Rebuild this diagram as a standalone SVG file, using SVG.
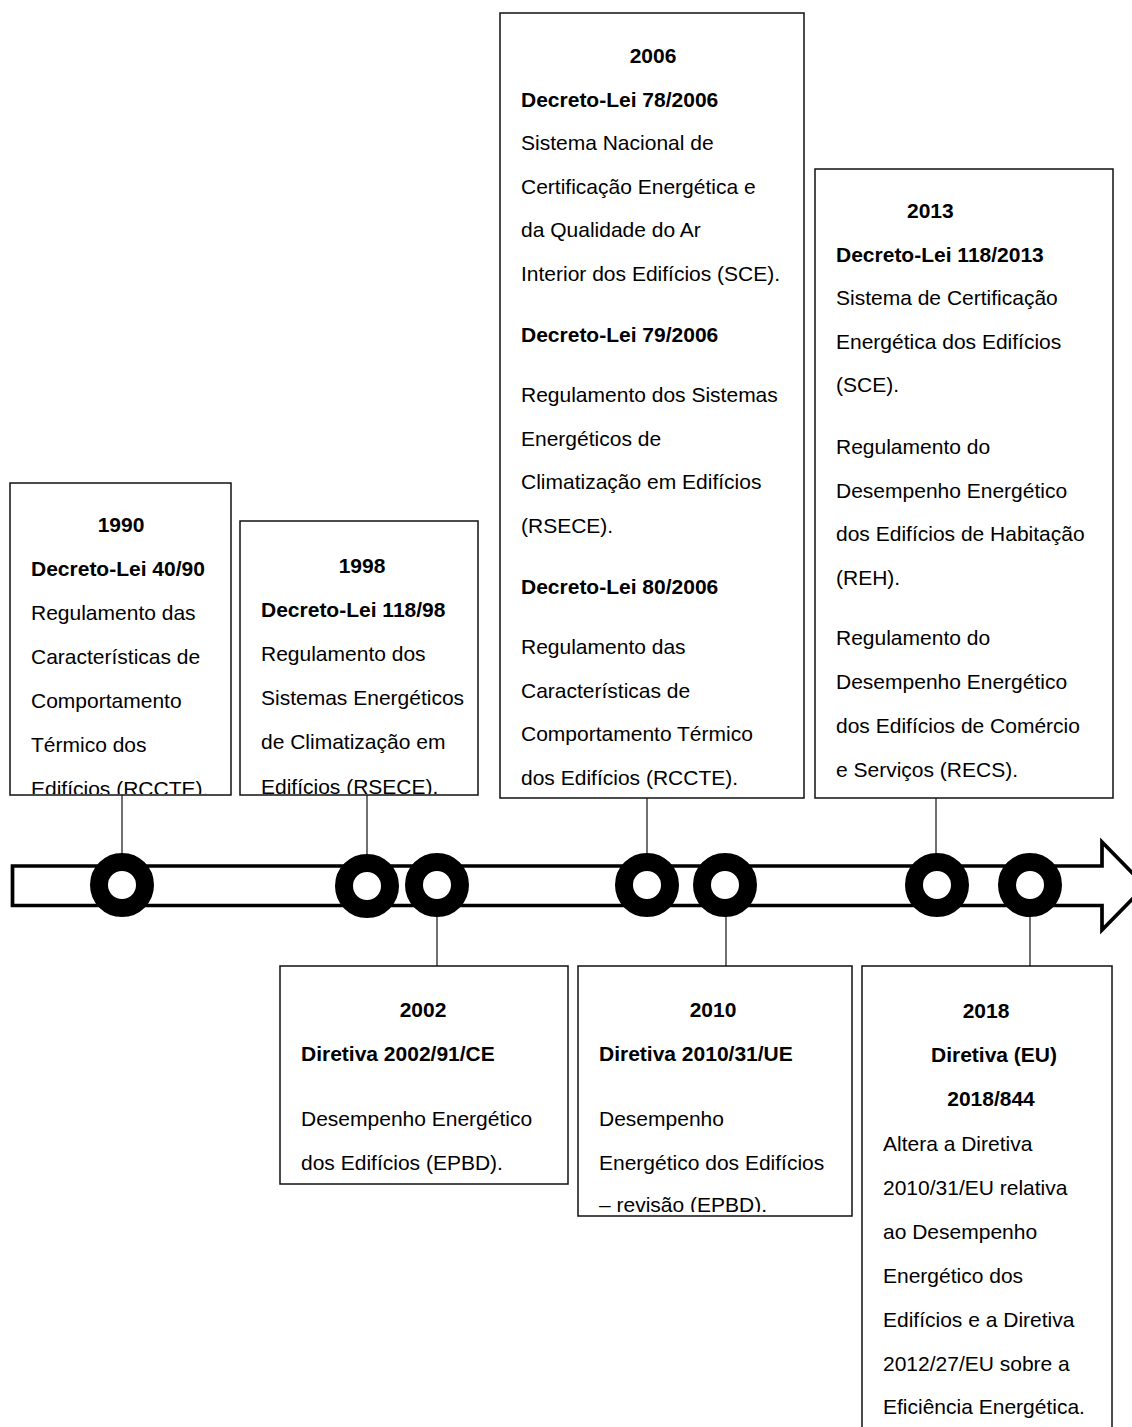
<svg xmlns="http://www.w3.org/2000/svg" width="1132" height="1427" viewBox="0 0 1132 1427">
<style>
.t{font-family:"Liberation Sans",Arial,sans-serif;font-size:21px;fill:#000}
.b{font-weight:bold}
.c{text-anchor:middle}
.box{fill:#fff;stroke:#111;stroke-width:1.5}
.conn{stroke:#111;stroke-width:1.2;fill:none}
.ring{fill:#fff;stroke:#000;stroke-width:18}
.arrow{fill:#fff;stroke:#000;stroke-width:3.7;stroke-linejoin:miter}
</style>
<defs>
<clipPath id="c1990"><rect x="10" y="483" width="221" height="311"/></clipPath>
<clipPath id="c1998"><rect x="240" y="521" width="238" height="273"/></clipPath>
<clipPath id="c2010"><rect x="578" y="966" width="274" height="246"/></clipPath>
</defs>
<rect width="1132" height="1427" fill="#fff"/>

<g id="connectors">
<line class="conn" x1="122" y1="795" x2="122" y2="856"/>
<line class="conn" x1="367" y1="795" x2="367" y2="856"/>
<line class="conn" x1="647" y1="798" x2="647" y2="856"/>
<line class="conn" x1="936" y1="798" x2="936" y2="856"/>
<line class="conn" x1="437" y1="914" x2="437" y2="966"/>
<line class="conn" x1="726" y1="914" x2="726" y2="966"/>
<line class="conn" x1="1030" y1="914" x2="1030" y2="966"/>
</g>

<g id="timeline">
<polygon class="arrow" points="12.5,866 1102,866 1102,842 1145,886 1102,930 1102,905.5 12.5,905.5"/>
<circle class="ring" cx="122" cy="885" r="23"/>
<circle class="ring" cx="367" cy="886" r="23"/>
<circle class="ring" cx="437" cy="885" r="23"/>
<circle class="ring" cx="647" cy="885" r="23"/>
<circle class="ring" cx="725" cy="885" r="23"/>
<circle class="ring" cx="937" cy="885" r="23"/>
<circle class="ring" cx="1030" cy="885" r="23"/>
</g>

<g id="n1990">
<rect class="box" x="10" y="483" width="221" height="312"/>
<g clip-path="url(#c1990)">
<text class="t b c" x="121" y="532">1990</text>
<text class="t b" x="31" y="576">Decreto-Lei 40/90</text>
<text class="t" x="31" y="620">Regulamento das</text>
<text class="t" x="31" y="664">Características de</text>
<text class="t" x="31" y="708">Comportamento</text>
<text class="t" x="31" y="752">Térmico dos</text>
<text class="t" x="31" y="796">Edifícios (RCCTE).</text>
</g>
</g>

<g id="n1998">
<rect class="box" x="240" y="521" width="238" height="274"/>
<g clip-path="url(#c1998)">
<text class="t b c" x="362" y="573">1998</text>
<text class="t b" x="261" y="617">Decreto-Lei 118/98</text>
<text class="t" x="261" y="661">Regulamento dos</text>
<text class="t" x="261" y="705">Sistemas Energéticos</text>
<text class="t" x="261" y="749">de Climatização em</text>
<text class="t" x="261" y="794">Edifícios (RSECE).</text>
</g>
</g>

<g id="n2006">
<rect class="box" x="500" y="13" width="304" height="785"/>
<text class="t b c" x="653" y="63">2006</text>
<text class="t b" x="521" y="107">Decreto-Lei 78/2006</text>
<text class="t" x="521" y="150">Sistema Nacional de</text>
<text class="t" x="521" y="194">Certificação Energética e</text>
<text class="t" x="521" y="237">da Qualidade do Ar</text>
<text class="t" x="521" y="281">Interior dos Edifícios (SCE).</text>
<text class="t b" x="521" y="342">Decreto-Lei 79/2006</text>
<text class="t" x="521" y="402">Regulamento dos Sistemas</text>
<text class="t" x="521" y="446">Energéticos de</text>
<text class="t" x="521" y="489">Climatização em Edifícios</text>
<text class="t" x="521" y="533">(RSECE).</text>
<text class="t b" x="521" y="594">Decreto-Lei 80/2006</text>
<text class="t" x="521" y="654">Regulamento das</text>
<text class="t" x="521" y="698">Características de</text>
<text class="t" x="521" y="741">Comportamento Térmico</text>
<text class="t" x="521" y="785">dos Edifícios (RCCTE).</text>
</g>

<g id="n2013">
<rect class="box" x="815" y="169" width="298" height="629"/>
<text class="t b" x="907" y="218">2013</text>
<text class="t b" x="836" y="262">Decreto-Lei 118/2013</text>
<text class="t" x="836" y="305">Sistema de Certificação</text>
<text class="t" x="836" y="349">Energética dos Edifícios</text>
<text class="t" x="836" y="392">(SCE).</text>
<text class="t" x="836" y="454">Regulamento do</text>
<text class="t" x="836" y="498">Desempenho Energético</text>
<text class="t" x="836" y="541">dos Edifícios de Habitação</text>
<text class="t" x="836" y="585">(REH).</text>
<text class="t" x="836" y="645">Regulamento do</text>
<text class="t" x="836" y="689">Desempenho Energético</text>
<text class="t" x="836" y="733">dos Edifícios de Comércio</text>
<text class="t" x="836" y="777">e Serviços (RECS).</text>
</g>

<g id="n2002">
<rect class="box" x="280" y="966" width="288" height="218"/>
<text class="t b c" x="423" y="1017">2002</text>
<text class="t b" x="301" y="1061">Diretiva 2002/91/CE</text>
<text class="t" x="301" y="1126">Desempenho Energético</text>
<text class="t" x="301" y="1170">dos Edifícios (EPBD).</text>
</g>

<g id="n2010">
<rect class="box" x="578" y="966" width="274" height="250"/>
<g clip-path="url(#c2010)">
<text class="t b c" x="713" y="1017">2010</text>
<text class="t b" x="599" y="1061">Diretiva 2010/31/UE</text>
<text class="t" x="599" y="1126">Desempenho</text>
<text class="t" x="599" y="1170">Energético dos Edifícios</text>
<text class="t" x="599" y="1212">– revisão (EPBD).</text>
</g>
</g>

<g id="n2018">
<rect class="box" x="862" y="966" width="250" height="480"/>
<text class="t b c" x="986" y="1018">2018</text>
<text class="t b c" x="994" y="1062">Diretiva (EU)</text>
<text class="t b c" x="991" y="1106">2018/844</text>
<text class="t" x="883" y="1151">Altera a Diretiva</text>
<text class="t" x="883" y="1195">2010/31/EU relativa</text>
<text class="t" x="883" y="1239">ao Desempenho</text>
<text class="t" x="883" y="1283">Energético dos</text>
<text class="t" x="883" y="1327">Edifícios e a Diretiva</text>
<text class="t" x="883" y="1371">2012/27/EU sobre a</text>
<text class="t" x="883" y="1414">Eficiência Energética.</text>
</g>
</svg>
